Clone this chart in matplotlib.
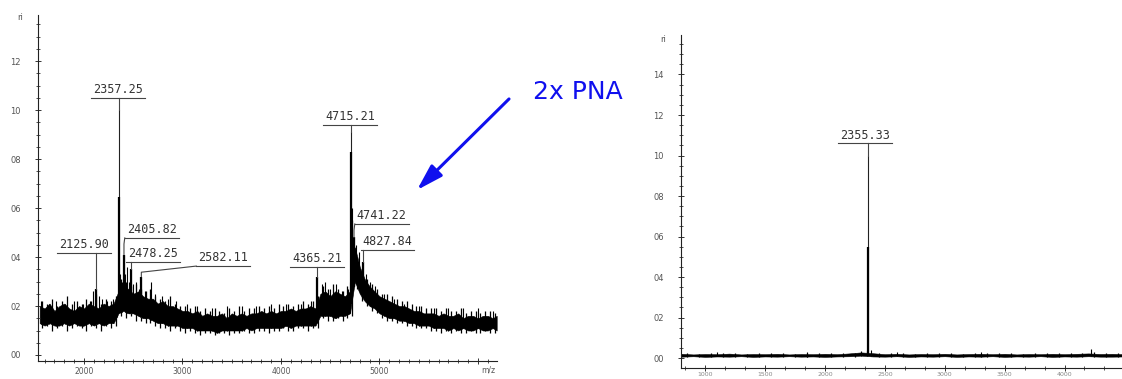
import numpy as np
import matplotlib.pyplot as plt
from matplotlib.ticker import MultipleLocator, FuncFormatter

# ---- left spectrum: noise band (m/z grid, lower / upper edge of the band)
mz_left = [1550, 1600, 1650, 1700, 1750, 1800, 1850, 1900, 1950, 2000, 2050, 2100,
           2150, 2200, 2250, 2300, 2350, 2400, 2450, 2500, 2550, 2600, 2650, 2700,
           2750, 2800, 2850, 2900, 2950, 3000, 3050, 3100, 3150, 3200, 3250, 3300,
           3350, 3400, 3450, 3500, 3550, 3600, 3650, 3700, 3750, 3800, 3850, 3900,
           3950, 4000, 4050, 4100, 4150, 4200, 4250, 4300, 4350, 4400, 4450, 4500,
           4550, 4600, 4650, 4700, 4750, 4800, 4850, 4900, 4950, 5000, 5050, 5100,
           5150, 5200, 5250, 5300, 5350, 5400, 5450, 5500, 5550, 5600, 5650, 5700,
           5750, 5800, 5850, 5900, 5950, 6000, 6050, 6100, 6150, 6190]
top_left = [0.20, 0.19, 0.21, 0.18, 0.20, 0.21, 0.19, 0.18, 0.20, 0.19, 0.21, 0.20,
            0.19, 0.21, 0.20, 0.21, 0.26, 0.28, 0.27, 0.25, 0.26, 0.24, 0.23, 0.23,
            0.21, 0.22, 0.20, 0.20, 0.19, 0.18, 0.18, 0.17, 0.18, 0.16, 0.17, 0.16,
            0.16, 0.17, 0.15, 0.17, 0.16, 0.17, 0.16, 0.17, 0.17, 0.18, 0.17, 0.18,
            0.17, 0.18, 0.18, 0.19, 0.18, 0.19, 0.19, 0.20, 0.19, 0.25, 0.26, 0.24,
            0.26, 0.25, 0.24, 0.26, 0.44, 0.36, 0.31, 0.28, 0.26, 0.24, 0.23, 0.22,
            0.21, 0.20, 0.20, 0.19, 0.18, 0.18, 0.17, 0.17, 0.17, 0.16, 0.17, 0.16,
            0.16, 0.17, 0.15, 0.16, 0.16, 0.15, 0.16, 0.16, 0.15, 0.16]
bot_left = [0.13, 0.12, 0.13, 0.12, 0.12, 0.13, 0.12, 0.13, 0.12, 0.12, 0.13, 0.12,
            0.13, 0.12, 0.13, 0.13, 0.17, 0.18, 0.17, 0.17, 0.16, 0.15, 0.15, 0.14,
            0.13, 0.13, 0.12, 0.12, 0.12, 0.11, 0.11, 0.11, 0.10, 0.10, 0.10, 0.10,
            0.09, 0.10, 0.10, 0.10, 0.10, 0.10, 0.11, 0.10, 0.11, 0.11, 0.11, 0.11,
            0.11, 0.11, 0.12, 0.11, 0.12, 0.12, 0.12, 0.12, 0.12, 0.16, 0.16, 0.16,
            0.15, 0.16, 0.16, 0.17, 0.30, 0.25, 0.22, 0.20, 0.19, 0.17, 0.16, 0.15,
            0.15, 0.14, 0.14, 0.13, 0.13, 0.12, 0.12, 0.12, 0.11, 0.11, 0.11, 0.10,
            0.11, 0.10, 0.11, 0.10, 0.10, 0.11, 0.10, 0.10, 0.11, 0.10]

# noise strokes between the grid points (m/z, lowest, highest)
noise_mz_left = [1575, 1625, 1675, 1725, 1775, 1825, 1875, 1925, 1975, 2025, 2075, 2125,
                 2175, 2225, 2275, 2325, 2375, 2425, 2475, 2525, 2575, 2625, 2675, 2725,
                 2775, 2825, 2875, 2925, 2975, 3025, 3075, 3125, 3175, 3225, 3275, 3325,
                 3375, 3425, 3475, 3525, 3575, 3625, 3675, 3725, 3775, 3825, 3875, 3925,
                 3975, 4025, 4075, 4125, 4175, 4225, 4275, 4325, 4375, 4425, 4475, 4525,
                 4575, 4625, 4675, 4725, 4775, 4825, 4875, 4925, 4975, 5025, 5075, 5125,
                 5175, 5225, 5275, 5325, 5375, 5425, 5475, 5525, 5575, 5625, 5675, 5725,
                 5775, 5825, 5875, 5925, 5975, 6025, 6075, 6125, 6175]
noise_lo_left = [0.11, 0.12, 0.10, 0.11, 0.12, 0.10, 0.11, 0.12, 0.11, 0.10, 0.12, 0.11,
                 0.10, 0.12, 0.11, 0.12, 0.16, 0.15, 0.16, 0.14, 0.14, 0.13, 0.13, 0.12,
                 0.11, 0.11, 0.10, 0.11, 0.10, 0.09, 0.10, 0.09, 0.08, 0.09, 0.09, 0.08,
                 0.09, 0.09, 0.08, 0.09, 0.09, 0.10, 0.09, 0.09, 0.10, 0.10, 0.09, 0.10,
                 0.10, 0.11, 0.10, 0.10, 0.11, 0.11, 0.10, 0.11, 0.11, 0.15, 0.14, 0.14,
                 0.15, 0.14, 0.15, 0.16, 0.27, 0.22, 0.20, 0.18, 0.17, 0.15, 0.14, 0.14,
                 0.13, 0.13, 0.12, 0.12, 0.11, 0.11, 0.11, 0.10, 0.10, 0.09, 0.10, 0.09,
                 0.10, 0.09, 0.09, 0.10, 0.09, 0.09, 0.10, 0.09, 0.09]
noise_hi_left = [0.22, 0.21, 0.23, 0.20, 0.22, 0.24, 0.21, 0.22, 0.21, 0.23, 0.22, 0.25,
                 0.21, 0.23, 0.22, 0.24, 0.31, 0.30, 0.28, 0.29, 0.27, 0.26, 0.27, 0.24,
                 0.23, 0.22, 0.24, 0.21, 0.20, 0.20, 0.19, 0.20, 0.18, 0.19, 0.18, 0.19,
                 0.18, 0.17, 0.19, 0.18, 0.20, 0.18, 0.19, 0.19, 0.20, 0.19, 0.20, 0.19,
                 0.21, 0.20, 0.21, 0.20, 0.21, 0.22, 0.21, 0.22, 0.24, 0.28, 0.27, 0.29,
                 0.27, 0.26, 0.28, 0.55, 0.40, 0.34, 0.31, 0.29, 0.27, 0.25, 0.25, 0.24,
                 0.23, 0.22, 0.22, 0.21, 0.20, 0.20, 0.19, 0.19, 0.19, 0.18, 0.19, 0.18,
                 0.18, 0.19, 0.17, 0.18, 0.18, 0.17, 0.18, 0.18, 0.17]

# small unlabeled spikes (m/z, height)
spike_mz_left = [1560, 1640, 1720, 1810, 1900, 1990, 2060, 2090, 2150, 2180, 2230, 2290,
                 2330, 2370, 2385, 2420, 2440, 2460, 2500, 2530, 2560, 2620, 2680, 2720,
                 2790, 2850, 2930, 3050, 3150, 3300, 3450, 3600, 3750, 3900, 4050, 4200,
                 4300, 4420, 4450, 4500, 4560, 4620, 4680, 4700, 4725, 4760, 4790, 4860,
                 4900, 4950, 5050, 5150, 5250, 5400, 5550, 5700, 5850, 6000, 6150]
spike_h_left = [0.22, 0.21, 0.22, 0.21, 0.22, 0.21, 0.22, 0.26, 0.24, 0.23, 0.22, 0.23,
                0.24, 0.33, 0.30, 0.33, 0.36, 0.30, 0.29, 0.30, 0.27, 0.26, 0.30, 0.25,
                0.24, 0.23, 0.22, 0.21, 0.20, 0.19, 0.20, 0.20, 0.20, 0.21, 0.21, 0.21,
                0.22, 0.29, 0.30, 0.27, 0.29, 0.26, 0.27, 0.30, 0.60, 0.45, 0.42, 0.33,
                0.30, 0.28, 0.25, 0.23, 0.21, 0.20, 0.19, 0.19, 0.19, 0.19, 0.18]

# labelled peaks: m/z, tip height, height of the thick body
peak_mz_left = [2125.90, 2357.25, 2405.82, 2478.25, 2582.11, 4365.21, 4715.21, 4741.22, 4827.84]
peak_top_left = [0.27, 1.00, 0.41, 0.35, 0.32, 0.32, 0.91, 0.48, 0.38]
peak_body_left = [0.27, 0.645, 0.41, 0.35, 0.32, 0.32, 0.83, 0.48, 0.38]
label_left = ["2125.90", "2357.25", "2405.82", "2478.25", "2582.11",
              "4365.21", "4715.21", "4741.22", "4827.84"]
# underline height and horizontal text offset (points) of each label
label_y_left = [0.416, 1.049, 0.478, 0.38, 0.363, 0.359, 0.939, 0.535, 0.43]
label_dx_left = [-27, -19, 2, -2, 41, -18, -19, 2, 0]

# ---- right spectrum
mz_right = [800, 900, 1000, 1100, 1200, 1300, 1400, 1500, 1600, 1700, 1800, 1900,
            2000, 2100, 2200, 2300, 2400, 2500, 2600, 2700, 2800, 2900, 3000, 3100,
            3200, 3300, 3400, 3500, 3600, 3700, 3800, 3900, 4000, 4100, 4200, 4300,
            4400, 4500]
top_right = [0.021, 0.018, 0.020, 0.019, 0.022, 0.018, 0.020, 0.019, 0.021, 0.018, 0.020, 0.019,
             0.021, 0.019, 0.023, 0.028, 0.024, 0.019, 0.021, 0.018, 0.020, 0.019, 0.021, 0.018,
             0.020, 0.021, 0.019, 0.021, 0.018, 0.020, 0.019, 0.021, 0.019, 0.021, 0.023, 0.020,
             0.021, 0.019]
bot_right = [0.007, 0.009, 0.006, 0.008, 0.007, 0.009, 0.006, 0.008, 0.007, 0.009, 0.007, 0.008,
             0.006, 0.008, 0.009, 0.012, 0.008, 0.007, 0.009, 0.006, 0.008, 0.007, 0.009, 0.006,
             0.008, 0.007, 0.009, 0.006, 0.008, 0.007, 0.009, 0.006, 0.008, 0.007, 0.009, 0.007,
             0.007, 0.008]
noise_mz_right = [850, 950, 1050, 1150, 1250, 1350, 1450, 1550, 1650, 1750, 1850, 1950,
                  2050, 2150, 2250, 2350, 2450, 2550, 2650, 2750, 2850, 2950, 3050, 3150,
                  3250, 3350, 3450, 3550, 3650, 3750, 3850, 3950, 4050, 4150, 4250, 4350, 4450]
noise_lo_right = [0.004, 0.006, 0.003, 0.005, 0.004, 0.006, 0.003, 0.005, 0.004, 0.006, 0.003, 0.005,
                  0.004, 0.006, 0.005, 0.008, 0.005, 0.004, 0.006, 0.003, 0.005, 0.004, 0.006, 0.003,
                  0.005, 0.004, 0.006, 0.003, 0.005, 0.004, 0.006, 0.003, 0.005, 0.004, 0.006, 0.004,
                  0.005]
noise_hi_right = [0.024, 0.022, 0.025, 0.023, 0.026, 0.022, 0.024, 0.023, 0.025, 0.022, 0.026, 0.023,
                  0.024, 0.025, 0.027, 0.033, 0.026, 0.023, 0.025, 0.022, 0.024, 0.023, 0.026, 0.022,
                  0.024, 0.026, 0.023, 0.025, 0.022, 0.024, 0.023, 0.025, 0.024, 0.026, 0.028, 0.024,
                  0.025]
spike_mz_right = [1100, 1850, 2300, 2380, 2600, 3300, 4220]
spike_h_right = [0.03, 0.028, 0.035, 0.04, 0.03, 0.03, 0.045]
peak_mz_right = [2355.33]
peak_top_right = [1.00]
peak_body_right = [0.55]
label_right = ["2355.33"]
label_y_right = [1.06]
label_dx_right = [-20]

TICK_C = '#555555'
LEAD_C = '#444444'


def style_axes(ax, xmajor, xminor, xfmt):
    for s in ['top', 'right']:
        ax.spines[s].set_visible(False)
    for s in ['left', 'bottom']:
        ax.spines[s].set_color('#222222')
        ax.spines[s].set_linewidth(0.8)
    ax.yaxis.set_major_locator(MultipleLocator(0.2))
    ax.yaxis.set_minor_locator(MultipleLocator(0.05))
    ax.yaxis.set_major_formatter(FuncFormatter(lambda v, p: f"{v:.1f}".replace('.', '') if v >= -0.01 else ''))
    ax.xaxis.set_major_locator(MultipleLocator(xmajor))
    ax.xaxis.set_minor_locator(MultipleLocator(xminor))
    ax.xaxis.set_major_formatter(FuncFormatter(xfmt))
    ax.tick_params(axis='both', which='major', direction='inout', length=5, width=0.7,
                   color='#333333', labelcolor=TICK_C, labelsize=6)
    ax.tick_params(axis='both', which='minor', direction='inout', length=3, width=0.6,
                   color='#333333')
    ax.tick_params(axis='y', which='major', pad=10)
    ax.tick_params(axis='x', which='major', pad=1.5, labelsize=5.5)


def draw_spectrum(ax, mz, top, bot, nmz, nlo, nhi, smz, sh, pmz, ptop, pbody):
    ax.fill_between(mz, bot, top, color='black', linewidth=0.4, edgecolor='black')
    ax.vlines(nmz, nlo, nhi, color='black', linewidth=0.9)
    base = np.interp(smz, mz, bot)
    ax.vlines(smz, base, sh, color='black', linewidth=0.8)
    pbase = np.interp(pmz, mz, bot)
    ax.vlines(pmz, pbase, ptop, color='#222222', linewidth=0.8)
    ax.vlines(pmz, pbase, pbody, color='black', linewidth=1.6)


def draw_labels(fig, ax, pmz, ptop, labels, ly, ldx):
    texts = []
    for x, y, lab, dx in zip(pmz, ly, labels, ldx):
        t = ax.annotate(lab, xy=(x, y), xytext=(dx, 1.2), textcoords='offset points',
                        ha='left', va='bottom', fontsize=8.5, color='#333333',
                        family='DejaVu Sans Mono', annotation_clip=False)
        texts.append(t)
    fig.canvas.draw()
    inv = ax.transData.inverted()
    for t, x, y, top in zip(texts, pmz, ly, ptop):
        bb = t.get_window_extent()
        x0 = inv.transform((bb.x0 - 2, 0))[0]
        x1 = inv.transform((bb.x1 + 2, 0))[0]
        ax.plot([x0, x1], [y, y], color=LEAD_C, linewidth=0.8, clip_on=False)
        if x0 <= x <= x1:
            ax.plot([x, x], [y, top], color=LEAD_C, linewidth=0.8, clip_on=False)
        else:
            ax.plot([x0, x, x], [y, y - 0.025, top], color=LEAD_C, linewidth=0.8, clip_on=False)


fig = plt.figure(figsize=(11.22, 3.79), dpi=100)

# left panel
ax1 = fig.add_axes([38 / 1122, 18 / 379, 459 / 1122, 346 / 379])
draw_spectrum(ax1, mz_left, top_left, bot_left, noise_mz_left, noise_lo_left, noise_hi_left,
              spike_mz_left, spike_h_left, peak_mz_left, peak_top_left, peak_body_left)
ax1.set_xlim(1533, 6193)
ax1.set_ylim(-0.0245, 1.388)
style_axes(ax1, 1000, 100, lambda v, p: f"{v:.0f}" if v < 5500 else '')
draw_labels(fig, ax1, peak_mz_left, peak_top_left, label_left, label_y_left, label_dx_left)
fig.text(17 / 1122, 1 - 18 / 379, "ri", fontsize=6, color=TICK_C, ha='left', va='center')
fig.text(488 / 1122, 1 - 370 / 379, "m/z", fontsize=5.5, color=TICK_C, ha='center', va='center')

# right panel
ax2 = fig.add_axes([681 / 1122, 11 / 379, 441 / 1122, 333 / 379])
draw_spectrum(ax2, mz_right, top_right, bot_right, noise_mz_right, noise_lo_right, noise_hi_right,
              spike_mz_right, spike_h_right, peak_mz_right, peak_top_right, peak_body_right)
ax2.set_xlim(797, 4480)
ax2.set_ylim(-0.049, 1.595)
style_axes(ax2, 500, 500 / 3, lambda v, p: f"{v:.0f}")
ax2.tick_params(axis='x', which='major', labelsize=4.5, labelcolor='#888888', pad=0.5)
draw_labels(fig, ax2, peak_mz_right, peak_top_right, label_right, label_y_right, label_dx_right)
fig.text(660 / 1122, 1 - 40 / 379, "ri", fontsize=6, color=TICK_C, ha='left', va='center')

# annotation
fig.text(533 / 1122, 1 - 92 / 379, "2x PNA", fontsize=18, color='#1010ee', ha='left', va='center')
ax1.annotate('', xy=(415 / 1122, 1 - 192 / 379), xycoords='figure fraction',
             xytext=(511 / 1122, 1 - 97 / 379), textcoords='figure fraction',
             arrowprops=dict(arrowstyle='-|>,head_length=0.8,head_width=0.24',
                             color='#1010ee', lw=2.2, mutation_scale=20),
             annotation_clip=False)

fig.savefig("out.png", dpi=100)
